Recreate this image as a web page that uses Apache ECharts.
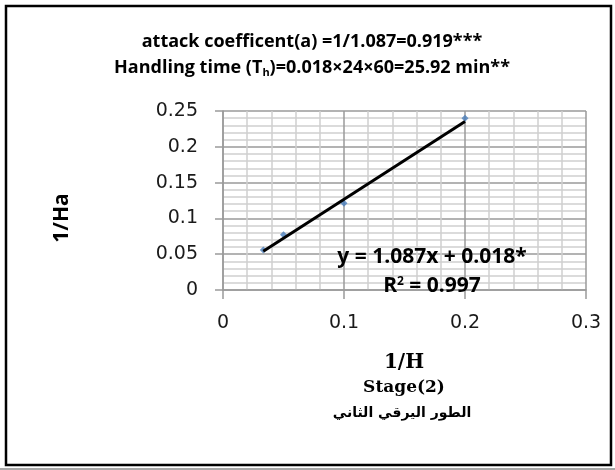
<!DOCTYPE html>
<html>
<head>
<meta charset="utf-8">
<script src="https://cdn.jsdelivr.net/npm/echarts@6/dist/echarts.min.js"></script>
<style>
    html, body {margin: 0; padding: 0; background: #fff;}
    #chart {width: 615px; height: 470px;}
</style>
</head>
<body>
<div id="chart"></div>
<script>
// data
const invH = [0.0333, 0.05, 0.1, 0.2];
const invHa = [0.056, 0.077, 0.121, 0.24];
const slope = 1.087;
const intercept = 0.018;
const titleLines = [
    'attack coefficent(a) =1/1.087=0.919***',
    ['Handling time (T', 'h', ')=0.018×24×60=25.92 min**'],
];
const eqText = 'y = 1.087x + 0.018*';
const r2Text = ['R', '2', ' = 0.997'];
const xName = ['1/H', 'Stage(2)', 'الطور اليرقي الثاني'];
const yName = '1/Ha';

const points = invH.map((x, i) => [x, invHa[i]]);
const xFirst = invH[0];
const xLast = invH[invH.length - 1];
const trend = [
    [xFirst, slope * xFirst + intercept],
    [xLast, slope * xLast + intercept],
];

const chart = echarts.init(document.getElementById('chart'));
const labelFont = {color: '#1a1a1a', fontSize: 19, fontFamily: 'DejaVu Sans'};

chart.setOption({
    animation: false,
    backgroundColor: '#fff',
    grid: {left: 223, right: 29, top: 111, bottom: 180},
    xAxis: {
        type: 'value',
        min: 0,
        max: 0.3,
        interval: 0.1,
        axisLine: {show: true, lineStyle: {color: '#9a9a9a', width: 1.5}},
        axisTick: {show: true, length: 9, lineStyle: {color: '#9a9a9a', width: 1.5}},
        axisLabel: Object.assign({margin: 24}, labelFont),
        splitLine: {show: true, lineStyle: {color: '#9a9a9a', width: 1.5}},
        minorTick: {show: false, splitNumber: 5},
        minorSplitLine: {show: true, lineStyle: {color: '#cfcfcf', width: 1.5}},
    },
    yAxis: {
        type: 'value',
        min: 0,
        max: 0.25,
        interval: 0.05,
        axisLine: {show: true, lineStyle: {color: '#9a9a9a', width: 1.5}},
        axisTick: {show: true, length: 8, lineStyle: {color: '#9a9a9a', width: 1.5}},
        axisLabel: Object.assign({margin: 25}, labelFont),
        splitLine: {show: true, lineStyle: {color: '#9a9a9a', width: 1.5}},
        minorTick: {show: false, splitNumber: 5},
        minorSplitLine: {show: true, lineStyle: {color: '#cfcfcf', width: 1.5}},
    },
    series: [
        {
            type: 'scatter',
            data: points,
            symbol: 'diamond',
            symbolSize: 7,
            itemStyle: {color: '#4a7ebb'},
            z: 2,
        },
        {
            type: 'line',
            data: trend,
            symbol: 'none',
            lineStyle: {color: '#000', width: 3},
            z: 3,
        },
    ],
    graphic: [
        {
            type: 'rect',
            shape: {x: 6, y: 6, width: 605, height: 459},
            style: {fill: 'none', stroke: '#000', lineWidth: 2.5},
            z: 10,
        },
        {
            type: 'line',
            shape: {x1: 0, y1: 469, x2: 615, y2: 469},
            style: {stroke: '#8a8a8a', lineWidth: 1.5},
            z: 10,
        },
        {
            type: 'text',
            x: 312,
            y: 42,
            style: {
                text: titleLines[0],
                font: 'bold 18px "Open Sans"',
                fill: '#000',
                align: 'center',
                verticalAlign: 'middle',
            },
        },
        {
            type: 'text',
            x: 312,
            y: 68,
            style: {
                text: '{a|' + titleLines[1][0] + '}{s|' + titleLines[1][1] + '}{a|' + titleLines[1][2] + '}',
                align: 'center',
                verticalAlign: 'middle',
                rich: {
                    a: {font: 'bold 18px "Open Sans"', fill: '#000'},
                    s: {font: 'bold 11px "Open Sans"', fill: '#000', padding: [9, 0, 0, 0]},
                },
            },
        },
        {
            type: 'text',
            x: 62,
            y: 218,
            rotation: Math.PI / 2,
            style: {
                text: yName,
                font: 'bold 21px "Open Sans"',
                fill: '#000',
                align: 'center',
                verticalAlign: 'middle',
            },
        },
        {
            type: 'text',
            x: 404,
            y: 363,
            style: {
                text: xName[0],
                font: 'bold 20px "DejaVu Serif"',
                fill: '#000',
                align: 'center',
                verticalAlign: 'middle',
            },
        },
        {
            type: 'text',
            x: 404,
            y: 388,
            style: {
                text: xName[1],
                font: 'bold 17px "DejaVu Serif"',
                fill: '#000',
                align: 'center',
                verticalAlign: 'middle',
            },
        },
        {
            type: 'text',
            x: 402,
            y: 413,
            style: {
                text: xName[2],
                font: 'bold 14px "DejaVu Sans"',
                fill: '#000',
                align: 'center',
                verticalAlign: 'middle',
            },
        },
        {
            type: 'text',
            x: 432,
            y: 257,
            z: 5,
            style: {
                text: eqText,
                font: 'bold 21px "Open Sans"',
                fill: '#000',
                align: 'center',
                verticalAlign: 'middle',
            },
        },
        {
            type: 'text',
            x: 432,
            y: 286,
            z: 5,
            style: {
                text: '{a|' + r2Text[0] + '}{s|' + r2Text[1] + '}{a|' + r2Text[2] + '}',
                align: 'center',
                verticalAlign: 'middle',
                rich: {
                    a: {font: 'bold 21px "Open Sans"', fill: '#000'},
                    s: {font: 'bold 12px "Open Sans"', fill: '#000', padding: [0, 0, 9, 0]},
                },
            },
        },
    ],
});
</script>
</body>
</html>
